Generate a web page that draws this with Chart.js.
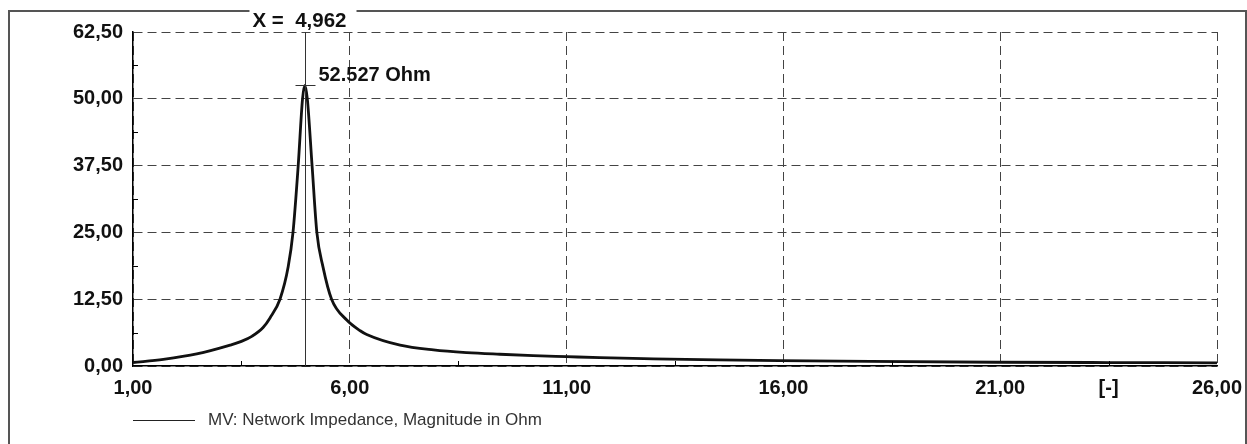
<!DOCTYPE html>
<html>
<head>
<meta charset="utf-8">
<script src="https://cdn.jsdelivr.net/npm/chart.js@4/dist/chart.umd.min.js"></script>
<style>
  html, body { margin: 0; padding: 0; background: #ffffff; }
  #wrap { width: 1247px; height: 444px; position: relative; }
</style>
</head>
<body>
<div id="wrap"><canvas id="c" width="1247" height="444"></canvas></div>
<script>
// ---- data ----
const xValues = [1.0, 1.7, 2.47, 3.24, 3.5, 3.75, 4.0, 4.16, 4.39, 4.58, 4.69, 4.81, 4.91, 4.962, 5.02, 5.13, 5.24, 5.38, 5.58, 5.93, 6.24, 6.39, 7.16, 7.93, 8.7, 9.46, 10.23, 11.0, 11.77, 13.0, 14.5, 15.9, 18.0, 20.9, 23.5, 26.0];
const impedance = [0.65, 1.25, 2.25, 3.9, 4.6, 5.6, 7.2, 9.0, 12.5, 18.6, 25.0, 37.5, 50.0, 52.527, 50.0, 37.5, 25.0, 18.6, 12.5, 8.6, 6.6, 5.9, 3.9, 3.0, 2.5, 2.2, 1.95, 1.75, 1.55, 1.35, 1.15, 1.0, 0.85, 0.7, 0.65, 0.6];
const xTickValues = [1, 6, 11, 16, 21, 26];
const xTickLabels = ["1,00", "6,00", "11,00", "16,00", "21,00", "26,00"];
const yTickValues = [0, 12.5, 25, 37.5, 50, 62.5];
const yTickLabels = ["0,00", "12,50", "25,00", "37,50", "50,00", "62,50"];
const cursorX = 4.962;
const cursorXLabel = "X =  4,962";
const peakValue = 52.527;
const peakLabel = "52.527 Ohm";
const xUnitLabel = "[-]";
const xUnitAt = 23.5;
const seriesName = "MV: Network Impedance, Magnitude in Ohm";

const FONT = "'Liberation Sans', Arial, sans-serif";

const points = xValues.map((x, i) => ({ x: x, y: impedance[i] }));

const decorPlugin = {
  id: 'decor',
  beforeDraw(chart) {
    const ctx = chart.ctx;
    ctx.save();
    ctx.fillStyle = '#ffffff';
    ctx.fillRect(0, 0, chart.width, chart.height);
    ctx.restore();
  },
  afterDatasetsDraw(chart) {
    const ctx = chart.ctx;
    const xs = chart.scales.x, ys = chart.scales.y;
    const a = chart.chartArea;
    ctx.save();
    // minor ticks (midpoints between major ticks), pointing inward
    ctx.strokeStyle = '#000';
    ctx.lineWidth = 1;
    ctx.beginPath();
    for (let i = 0; i < xTickValues.length - 1; i++) {
      const px = Math.round(xs.getPixelForValue((xTickValues[i] + xTickValues[i + 1]) / 2)) + 0.5;
      ctx.moveTo(px, a.bottom);
      ctx.lineTo(px, a.bottom - 5);
    }
    for (let i = 0; i < yTickValues.length - 1; i++) {
      const py = Math.round(ys.getPixelForValue((yTickValues[i] + yTickValues[i + 1]) / 2)) + 0.5;
      ctx.moveTo(a.left, py);
      ctx.lineTo(a.left + 5, py);
    }
    ctx.stroke();

    // cursor line
    const cx = Math.round(xs.getPixelForValue(cursorX)) + 0.5;
    ctx.strokeStyle = '#333';
    ctx.lineWidth = 1;
    ctx.beginPath();
    ctx.moveTo(cx, a.top);
    ctx.lineTo(cx, a.bottom);
    ctx.stroke();

    // peak marker
    const py = Math.round(ys.getPixelForValue(peakValue)) + 0.5;
    ctx.beginPath();
    ctx.moveTo(cx - 10, py);
    ctx.lineTo(cx + 10, py);
    ctx.stroke();

    // peak label
    ctx.fillStyle = '#111';
    ctx.font = 'bold 20px ' + FONT;
    ctx.textAlign = 'left';
    ctx.textBaseline = 'middle';
    ctx.fillText(peakLabel, cx + 13, py - 10);

    // x unit label
    ctx.font = 'bold 20px ' + FONT;
    ctx.textAlign = 'center';
    ctx.textBaseline = 'middle';
    ctx.fillText(xUnitLabel, xs.getPixelForValue(xUnitAt), a.bottom + 22);

    // frame with title gap
    ctx.font = 'bold 20.5px ' + FONT;
    const tw = ctx.measureText(cursorXLabel).width;
    const tx = cx - 6;
    const gapL = tx - tw / 2 - 3, gapR = tx + tw / 2 + 10;
    ctx.strokeStyle = '#555';
    ctx.lineWidth = 2;
    ctx.beginPath();
    ctx.moveTo(9, chart.height);
    ctx.lineTo(9, 11);
    ctx.lineTo(gapL, 11);
    ctx.moveTo(gapR, 11);
    ctx.lineTo(1246, 11);
    ctx.lineTo(1246, chart.height);
    ctx.stroke();
    ctx.fillStyle = '#111';
    ctx.textAlign = 'center';
    ctx.textBaseline = 'middle';
    ctx.fillText(cursorXLabel, tx, 21);

    // legend
    const ly = a.bottom + 54.5;
    ctx.strokeStyle = '#222';
    ctx.lineWidth = 1;
    ctx.beginPath();
    ctx.moveTo(a.left, ly);
    ctx.lineTo(a.left + 62, ly);
    ctx.stroke();
    ctx.fillStyle = '#333';
    ctx.font = '17px ' + FONT;
    ctx.textAlign = 'left';
    ctx.textBaseline = 'middle';
    ctx.fillText(seriesName, a.left + 75, ly);
    ctx.restore();
  }
};

new Chart(document.getElementById('c'), {
  type: 'line',
  data: {
    datasets: [{
      label: seriesName,
      data: points,
      borderColor: '#111',
      borderWidth: 2.8,
      pointRadius: 0,
      fill: false,
      cubicInterpolationMode: 'monotone'
    }]
  },
  options: {
    responsive: false,
    animation: false,
    devicePixelRatio: 1,
    layout: { padding: { left: 0, right: 30, top: 32, bottom: 0 } },
    plugins: { legend: { display: false }, tooltip: { enabled: false }, title: { display: false } },
    scales: {
      x: {
        type: 'linear',
        min: 1, max: 26,
        afterBuildTicks: (s) => { s.ticks = xTickValues.map(v => ({ value: v })); },
        afterFit: (s) => { s.height = 78; s.paddingRight = 0; s.paddingLeft = 0; },
        ticks: {
          callback: (v) => { const i = xTickValues.indexOf(v); return i >= 0 ? xTickLabels[i] : ''; },
          font: { family: FONT, size: 20, weight: 'bold' },
          color: '#111',
          padding: 10,
          maxRotation: 0,
          autoSkip: false
        },
        grid: { color: '#444', lineWidth: 1, drawTicks: false },
        border: { display: true, color: '#000', width: 1.5, dash: [9, 5] }
      },
      y: {
        type: 'linear',
        min: 0, max: 62.5,
        afterBuildTicks: (s) => { s.ticks = yTickValues.map(v => ({ value: v })); },
        afterFit: (s) => { s.width = 133; s.paddingTop = 0; s.paddingBottom = 0; },
        ticks: {
          callback: (v) => { const i = yTickValues.indexOf(v); return i >= 0 ? yTickLabels[i] : ''; },
          font: { family: FONT, size: 20, weight: 'bold' },
          color: '#111',
          padding: 10,
          autoSkip: false
        },
        grid: { color: '#444', lineWidth: 1, drawTicks: false },
        border: { display: true, color: '#000', width: 1.5, dash: [9, 5] }
      }
    }
  },
  plugins: [decorPlugin]
});
</script>
</body>
</html>
